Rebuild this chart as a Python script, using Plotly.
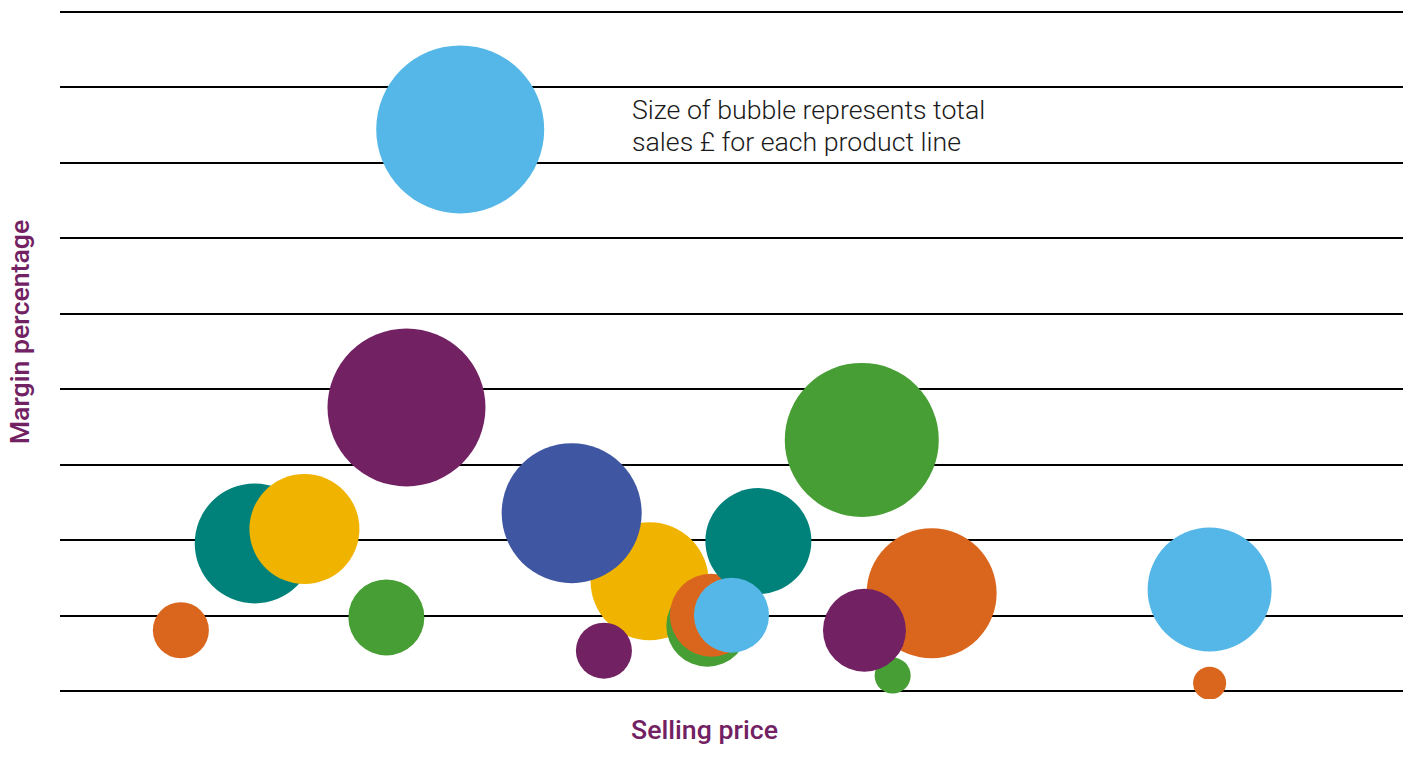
import math
import plotly.graph_objects as go

# Product lines (draw order, bottom to top)
selling_price = [14.5, 18.2, 9.0, 24.3, 25.8, 29.8, 43.9, 38.1, 40.5, 48.2, 48.5,
                 52.0, 50.0, 59.7, 64.9, 62.0, 59.9, 85.6, 85.6]
margin_pct = [1.96, 2.15, 0.81, 0.98, 3.76, 7.44, 1.46, 2.36, 0.54, 0.87, 1.01,
              1.99, 1.01, 3.33, 1.30, 0.21, 0.81, 1.35, 0.11]
total_sales = [144, 121, 31.4, 57.8, 249.6, 282.2, 139.2, 196, 31.4, 67.2, 68.9,
               112.4, 56.3, 237.2, 169, 13, 68.9, 153.8, 10.9]
line_colour = ["teal", "yellow", "orange", "green", "purple", "lightblue", "yellow",
               "blue", "purple", "green", "orange", "teal", "lightblue", "green",
               "orange", "green", "purple", "lightblue", "orange"]

palette = {
    "teal": "#00827A",
    "yellow": "#F0B400",
    "orange": "#DA661E",
    "green": "#479E34",
    "purple": "#722263",
    "lightblue": "#55B7E7",
    "blue": "#3F56A2",
}
grid_ticks = list(range(0, 10))
note_lines = ["Size of bubble represents total", "sales £ for each product line"]

diam = [math.sqrt(s) * 10 for s in total_sales]

fig = go.Figure(go.Scatter(
    x=selling_price, y=margin_pct, mode="markers",
    marker=dict(size=diam, sizemode="diameter",
                color=[palette[c] for c in line_colour],
                opacity=1, line=dict(width=0)),
    hoverinfo="skip",
))

fig.update_xaxes(range=[0, 100], showgrid=False, zeroline=False,
                 showticklabels=False, showline=False, ticks="")
fig.update_yaxes(range=[-0.1, 9.1], tickvals=grid_ticks, showgrid=True,
                 gridcolor="#000000", gridwidth=1.5, zeroline=False,
                 showticklabels=False, showline=False, ticks="")

purple = "#722263"
fs = 26.7
fig.add_annotation(text="Margin percentage", xref="paper", yref="paper",
                   x=-0.0298, y=0.529, textangle=-90, showarrow=False,
                   xanchor="center", yanchor="middle",
                   font=dict(family="Roboto", size=fs, color=purple, weight=500))
fig.add_annotation(text="Selling price", xref="paper", yref="paper",
                   x=0.480, y=-0.0446, showarrow=False,
                   xanchor="center", yanchor="middle",
                   font=dict(family="Roboto", size=fs, color=purple, weight=500))
for i, line in enumerate(note_lines):
    fig.add_annotation(text=line, xref="paper", yref="paper",
                       x=0.4245, y=(699 - 110 - 32 * i) / 695, showarrow=False,
                       xanchor="left", yanchor="middle", align="left",
                       font=dict(family="Roboto", size=fs, color="#1a1a1a", weight=300))

fig.update_layout(
    width=1408, height=760,
    margin=dict(l=60, r=5, t=4, b=61),
    plot_bgcolor="white", paper_bgcolor="white",
    showlegend=False,
)

fig.write_html("out.html")
